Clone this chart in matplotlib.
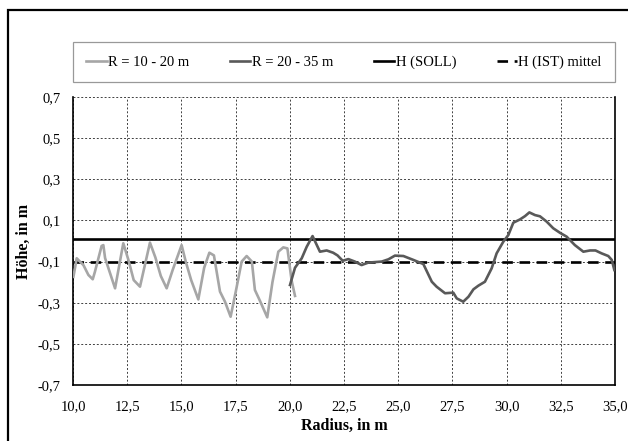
import numpy as np
import matplotlib
matplotlib.use("Agg")
import matplotlib.pyplot as plt
from matplotlib.patches import Rectangle

plt.rcParams['font.family'] = ['Liberation Serif', 'DejaVu Serif']

# Höhenprofil innen (R = 10 - 20 m)
r_innen = [10.02, 10.17, 10.48, 10.71, 10.91, 11.01, 11.32, 11.40, 11.48, 11.94,
           12.20, 12.32, 12.55, 12.80, 13.09, 13.55, 13.80, 14.05, 14.32, 14.60,
           15.01, 15.20, 15.45, 15.78, 16.05, 16.29, 16.50, 16.78, 17.01, 17.27,
           17.50, 17.78, 18.01, 18.25, 18.39, 18.62, 18.96, 19.20, 19.47, 19.70,
           19.89, 20.08, 20.24]
h_innen = [-0.174, -0.084, -0.117, -0.165, -0.186, -0.150, -0.024, -0.020, -0.083, -0.230,
           -0.080, -0.011, -0.090, -0.190, -0.222, -0.008, -0.080, -0.170, -0.230, -0.140,
           -0.020, -0.100, -0.190, -0.284, -0.130, -0.057, -0.070, -0.246, -0.295, -0.368,
           -0.250, -0.100, -0.073, -0.100, -0.238, -0.290, -0.371, -0.200, -0.052, -0.031,
           -0.036, -0.190, -0.267]

# Höhenprofil außen (R = 20 - 35 m)
r_aussen = [20.01, 20.24, 20.55, 20.78, 21.05, 21.39, 21.70, 22.00, 22.20, 22.44,
            22.70, 23.00, 23.31, 23.62, 24.24, 24.55, 24.85, 25.24, 25.70, 26.16,
            26.55, 26.77, 27.16, 27.54, 27.70, 28.00, 28.24, 28.47, 28.70, 29.00,
            29.31, 29.54, 29.85, 30.08, 30.31, 30.62, 30.85, 31.05, 31.31, 31.54,
            31.85, 32.15, 32.46, 32.77, 33.15, 33.54, 33.85, 34.10, 34.38, 34.69,
            34.85, 34.97]
h_aussen = [-0.214, -0.130, -0.084, -0.028, 0.024, -0.052, -0.046, -0.057, -0.070, -0.096,
            -0.088, -0.100, -0.117, -0.105, -0.100, -0.089, -0.071, -0.073, -0.092, -0.112,
            -0.198, -0.222, -0.254, -0.251, -0.279, -0.295, -0.271, -0.235, -0.217, -0.198,
            -0.133, -0.060, -0.003, 0.029, 0.089, 0.105, 0.121, 0.139, 0.126, 0.120,
            0.094, 0.062, 0.040, 0.021, -0.020, -0.052, -0.046, -0.046, -0.060, -0.073,
            -0.092, -0.141]

h_soll = 0.01
h_ist_mittel = -0.10

x_ticks = [10.0, 12.5, 15.0, 17.5, 20.0, 22.5, 25.0, 27.5, 30.0, 32.5, 35.0]
x_ticklabels = ['10,0', '12,5', '15,0', '17,5', '20,0', '22,5', '25,0', '27,5', '30,0', '32,5', '35,0']
y_ticks = [-0.7, -0.5, -0.3, -0.1, 0.1, 0.3, 0.5, 0.7]
y_ticklabels = ['-0,7', '-0,5', '-0,3', '-0,1', '0,1', '0,3', '0,5', '0,7']

W, H = 628, 441
fig = plt.figure(figsize=(W / 100, H / 100), dpi=100)
ax = fig.add_axes([73 / W, 1 - 385 / H, (615 - 73) / W, (385 - 97) / H])

ax.plot(r_innen, h_innen, color='#a6a6a6', lw=1.9, label='R = 10 - 20 m', zorder=3)
ax.plot(r_aussen, h_aussen, color='#595959', lw=1.9, label='R = 20 - 35 m', zorder=4)
ax.axhline(h_soll, color='black', lw=1.9, label='H (SOLL)', zorder=2)
ax.axhline(h_ist_mittel, color='black', lw=1.9, dashes=(4, 2.5), label='H (IST) mittel', zorder=2)

ax.set_xlim(10, 35)
ax.set_ylim(-0.7, 0.7)
ax.set_xticks(x_ticks)
ax.set_xticklabels(x_ticklabels)
ax.set_yticks(y_ticks)
ax.set_yticklabels(y_ticklabels)
ax.tick_params(length=0, labelsize=10.5)
ax.tick_params(axis='x', pad=11)
ax.tick_params(axis='y', pad=9)

ax.grid(True, color='#404040', lw=0.7, ls=(0, (2, 2)))
ax.spines['top'].set_visible(False)
for s in ('left', 'bottom', 'right'):
    ax.spines[s].set_linewidth(1.2)

ax.set_xlabel('Radius, in m', fontsize=11.5, fontweight='bold', labelpad=3)
ax.set_ylabel('Höhe, in m', fontsize=11.5, fontweight='bold', labelpad=4)

leg = ax.legend(loc='lower left', bbox_to_anchor=(0, 1 + 15 / 288, 1, 41 / 288),
                mode='expand', ncol=4, frameon=True, fancybox=False,
                handlelength=1.4, handletextpad=0.1, fontsize=10.5,
                borderaxespad=0, borderpad=0.9)
leg.get_frame().set_edgecolor('#808080')
leg.get_frame().set_linewidth(0.9)

# Rahmen um das Diagramm
fig.patches.append(Rectangle((8 / W, -0.2), 1.2, 1.2 - 10 / H,
                             transform=fig.transFigure, fill=False,
                             edgecolor='black', lw=1.6))

fig.savefig('out.png', dpi=100)
